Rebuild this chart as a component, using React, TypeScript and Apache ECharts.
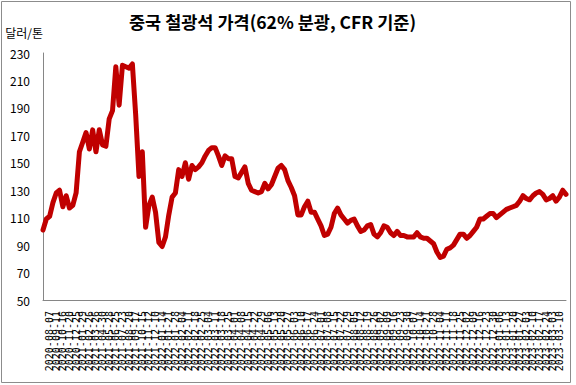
import React, { useEffect, useRef } from "react";
import * as echarts from "echarts";

const titleText = "중국 철광석 가격(62% 분광, CFR 기준)";
const unitText = "달러/톤";

const categories: string[] = [
  "2020-07-03", "2020-07-17", "2020-08-07", "2020-08-21", "2020-09-11", "2020-09-25",
  "2020-10-16", "2020-10-30", "2020-11-20", "2020-12-04", "2020-12-25", "2021-01-08",
  "2021-01-29", "2021-02-12", "2021-02-26", "2021-03-12", "2021-03-26", "2021-04-09",
  "2021-04-30", "2021-05-14", "2021-05-28", "2021-06-11", "2021-06-25", "2021-07-09",
  "2021-07-23", "2021-08-06", "2021-08-20", "2021-09-03", "2021-09-17", "2021-10-01",
  "2021-10-15", "2021-10-29", "2021-11-12", "2021-11-26", "2021-12-10", "2021-12-24",
  "2022-01-14", "2022-01-18", "2022-01-21", "2022-01-25", "2022-01-28", "2022-02-01",
  "2022-02-04", "2022-02-08", "2022-02-11", "2022-02-15", "2022-02-18", "2022-02-22",
  "2022-02-25", "2022-03-01", "2022-03-04", "2022-03-08", "2022-03-11", "2022-03-15",
  "2022-03-18", "2022-03-22", "2022-03-25", "2022-03-29", "2022-04-01", "2022-04-05",
  "2022-04-08", "2022-04-12", "2022-04-15", "2022-04-19", "2022-04-22", "2022-04-26",
  "2022-04-29", "2022-05-03", "2022-05-06", "2022-05-10", "2022-05-13", "2022-05-17",
  "2022-05-20", "2022-05-24", "2022-05-27", "2022-05-31", "2022-06-03", "2022-06-07",
  "2022-06-10", "2022-06-14", "2022-06-17", "2022-06-21", "2022-06-24", "2022-06-28",
  "2022-07-01", "2022-07-05", "2022-07-08", "2022-07-12", "2022-07-15", "2022-07-19",
  "2022-07-22", "2022-07-26", "2022-07-29", "2022-08-02", "2022-08-05", "2022-08-09",
  "2022-08-12", "2022-08-16", "2022-08-19", "2022-08-23", "2022-08-26", "2022-08-30",
  "2022-09-02", "2022-09-06", "2022-09-09", "2022-09-13", "2022-09-16", "2022-09-20",
  "2022-09-23", "2022-09-27", "2022-09-30", "2022-10-04", "2022-10-07", "2022-10-11",
  "2022-10-14", "2022-10-18", "2022-10-21", "2022-10-25", "2022-10-28", "2022-11-01",
  "2022-11-04", "2022-11-08", "2022-11-11", "2022-11-15", "2022-11-18", "2022-11-22",
  "2022-11-25", "2022-11-29", "2022-12-02", "2022-12-06", "2022-12-09", "2022-12-13",
  "2022-12-16", "2022-12-20", "2022-12-23", "2022-12-27", "2022-12-30", "2023-01-03",
  "2023-01-06", "2023-01-10", "2023-01-13", "2023-01-17", "2023-01-20", "2023-01-24",
  "2023-01-27", "2023-01-31", "2023-02-03", "2023-02-07", "2023-02-10", "2023-02-14",
  "2023-02-17", "2023-02-21", "2023-02-24", "2023-02-28", "2023-03-03", "2023-03-07",
  "2023-03-10", "2023-03-14", "2023-03-17",
];

const priceValues: number[] = [
  101, 109, 111, 121, 128, 130, 118, 126, 117, 119,
  128, 158, 165, 172, 160, 174, 158, 174, 163, 162,
  182, 188, 220, 192, 221, 220, 219, 222, 185, 140,
  158, 103, 119, 125, 114, 92, 89, 96, 112, 125,
  128, 145, 140, 150, 138, 148, 145, 147, 150, 155,
  159, 161, 161, 155, 148, 155, 153, 153, 140, 139,
  143, 147, 135, 130, 129, 128, 129, 135, 131, 134,
  140, 146, 148, 145, 137, 132, 126, 112, 112, 118,
  122, 114, 114, 109, 104, 97, 98, 103, 113, 117,
  112, 109, 106, 108, 109, 104, 100, 101, 104, 105,
  98, 96, 99, 104, 103, 99, 97, 100, 97, 97,
  96, 96, 96, 99, 96, 95, 95, 93, 91, 85,
  81, 82, 87, 88, 90, 94, 98, 98, 95, 97,
  100, 103, 109, 109, 111, 113, 113, 110, 112, 114,
  116, 117, 118, 119, 122, 126, 124, 123, 126, 128,
  129, 127, 123, 124, 126, 122, 125, 130, 127,
];

const yMin = 50;
const yMax = 230;
const yStep = 20;

export default function App() {
  const ref = useRef<HTMLDivElement>(null);

  useEffect(() => {
    if (!ref.current) return;
    const chart = echarts.init(ref.current, null, { renderer: "svg" });
    const axisGray = "#868686";
    chart.setOption({
      animation: false,
      backgroundColor: "#ffffff",
      title: {
        text: titleText,
        left: 129,
        top: 10,
        padding: 0,
        textStyle: {
          fontFamily: "Noto Sans CJK KR",
          fontSize: 17.5,
          fontWeight: "bold",
          color: "#000000",
          lineHeight: 22,
        },
      },
      grid: {
        left: 43,
        right: 10,
        top: 53,
        bottom: 85,
        containLabel: false,
        outerBoundsMode: "none",
      },
      xAxis: {
        type: "category",
        data: categories,
        boundaryGap: false,
        axisLine: { show: true, lineStyle: { color: axisGray, width: 1 } },
        axisTick: { show: false },
        splitLine: { show: false },
        axisLabel: {
          interval: 1,
          rotate: 90,
          margin: 11,
          fontFamily: "DejaVu Sans Mono",
          fontSize: 10,
          color: "#000000",
          hideOverlap: false,
        },
      },
      yAxis: {
        type: "value",
        min: yMin,
        max: yMax,
        interval: yStep,
        name: unitText,
        nameLocation: "end",
        nameGap: 21,
        nameTextStyle: {
          fontFamily: "Noto Sans CJK KR",
          fontSize: 12,
          color: "#000000",
          align: "right",
          verticalAlign: "middle",
        },
        axisLine: { show: true, lineStyle: { color: axisGray, width: 1 } },
        axisTick: { show: false },
        splitLine: { show: false },
        axisLabel: {
          margin: 13,
          fontFamily: "Noto Sans CJK KR",
          fontSize: 12,
          color: "#000000",
        },
      },
      graphic: [
        {
          type: "rect",
          silent: true,
          shape: { x: 1.5, y: 1.5, width: 569, height: 381 },
          style: { fill: "none", stroke: "#8c8c8c", lineWidth: 1 },
        },
      ],
      series: [
        {
          type: "line",
          data: priceValues,
          showSymbol: false,
          symbol: "none",
          smooth: false,
          lineStyle: { color: "#C00000", width: 5, join: "round", cap: "round" },
        },
      ],
    });
    return () => chart.dispose();
  }, []);

  return (
    <div
      ref={ref}
      style={{ position: "fixed", left: 0, top: 0, width: 576, height: 385, background: "#fff" }}
    />
  );
}
